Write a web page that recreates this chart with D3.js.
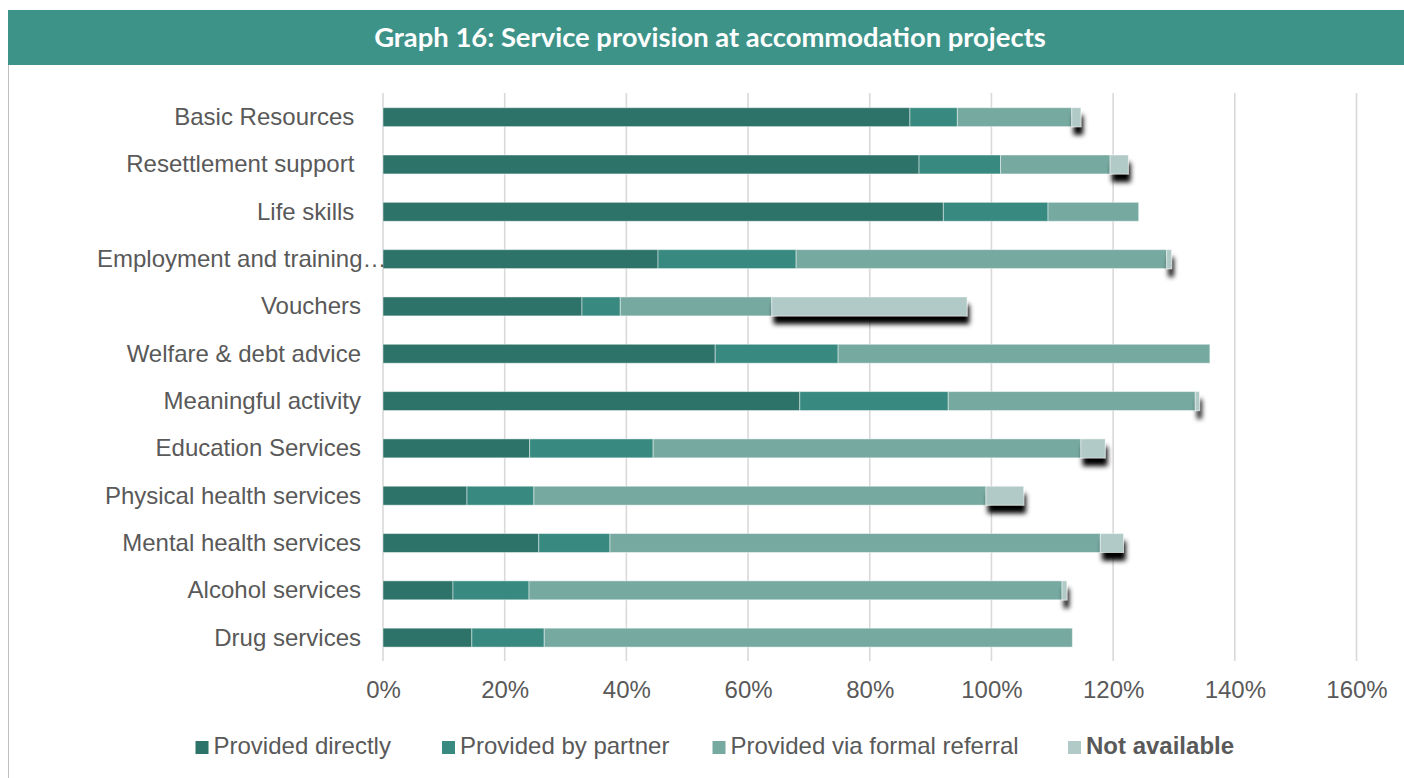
<!DOCTYPE html>
<html>
<head>
<meta charset="utf-8">
<script src="https://cdn.jsdelivr.net/npm/d3@7"></script>
<style>
  html, body { margin: 0; padding: 0; background: #ffffff; overflow: hidden; }
  svg { display: block; }
</style>
</head>
<body>
<svg id="chart" width="1404" height="778"></svg>
<script>
// ---- data (percent of projects) ----
const categories = [
  "Basic Resources ",
  "Resettlement support ",
  "Life skills ",
  "Employment and training…",
  "Vouchers",
  "Welfare & debt advice",
  "Meaningful activity",
  "Education Services",
  "Physical health services",
  "Mental health services",
  "Alcohol services",
  "Drug services"
];
const seriesNames = ["Provided directly", "Provided by partner", "Provided via formal referral", "Not available"];
const providedDirectly  = [86.6, 88.1, 92.1, 45.2, 32.7, 54.6, 68.5, 24.1, 13.8, 25.6, 11.5, 14.6];
const providedByPartner = [ 7.8, 13.4, 17.2, 22.7,  6.3, 20.2, 24.4, 20.3, 11.0, 11.7, 12.5, 11.9];
const formalReferral    = [18.8, 18.0, 14.9, 60.9, 24.9, 61.1, 40.6, 70.3, 74.3, 80.6, 87.6, 86.8];
const notAvailable      = [ 1.5,  3.0,  0.0,  0.8, 32.1,  0.0,  0.7,  4.0,  6.2,  3.8,  0.8,  0.0];
const tickValues = [0, 20, 40, 60, 80, 100, 120, 140, 160];
const title = "Graph 16: Service provision at accommodation projects";

const colors = ["#2e7369", "#388a80", "#76a9a0", "#b1cac7"];

// build table for stack
const table = categories.map((c, i) => ({
  cat: c,
  s0: providedDirectly[i],
  s1: providedByPartner[i],
  s2: formalReferral[i],
  s3: notAvailable[i]
}));
const keys = ["s0", "s1", "s2", "s3"];
const stacked = d3.stack().keys(keys)(table);

const svg = d3.select("#chart");
const textColor = "#595959";
const font = "'Liberation Sans', Arial, sans-serif";

// frame
svg.append("rect")
  .attr("x", 8.5).attr("y", 10.5)
  .attr("width", 1420).attr("height", 800)
  .attr("fill", "#ffffff")
  .attr("stroke", "#bfbfbf").attr("stroke-width", 1);

// header band
svg.append("rect")
  .attr("x", 8).attr("y", 10)
  .attr("width", 1420).attr("height", 55)
  .attr("fill", "#3e9389");

svg.append("text")
  .attr("x", 710).attr("y", 47)
  .attr("text-anchor", "middle")
  .attr("fill", "#ffffff")
  .attr("font-family", "Lato, 'Open Sans', sans-serif")
  .attr("font-weight", "bold")
  .attr("font-size", 27.4)
  .text(title);

// scales
const x = d3.scaleLinear().domain([0, 160]).range([383, 1356.5]);
const y = d3.scaleBand().domain(categories).range([93.5, 661.3]).paddingInner(0.6).paddingOuter(0.3);

// defs: shadow
const defs = svg.append("defs");
const f = defs.append("filter").attr("id", "shadow")
  .attr("x", "-50%").attr("y", "-50%").attr("width", "200%").attr("height", "250%");
f.append("feDropShadow")
  .attr("dx", 2).attr("dy", 8).attr("stdDeviation", 2.4)
  .attr("flood-color", "#000000").attr("flood-opacity", 1);

// gridlines
const grid = svg.append("g").attr("class", "grid");
grid.selectAll("line").data(tickValues).join("line")
  .attr("x1", d => x(d)).attr("x2", d => x(d))
  .attr("y1", 93).attr("y2", 661)
  .attr("stroke", "#d9d9d9").attr("stroke-width", 1.6);

// x axis labels via d3 axis
const xAxis = d3.axisBottom(x).tickValues(tickValues).tickFormat(d => d + "%").tickSize(0).tickPadding(0);
const gx = svg.append("g").attr("transform", "translate(0,680)").call(xAxis);
gx.select(".domain").remove();
gx.selectAll("text")
  .attr("fill", textColor)
  .attr("font-family", font)
  .attr("font-size", 24)
  .attr("dy", "0.75em");

// bars
const layers = svg.append("g").selectAll("g").data(stacked).join("g")
  .attr("fill", (d, i) => colors[i])
  .attr("filter", (d, i) => i === 3 ? "url(#shadow)" : null);
layers.selectAll("rect").data(d => d.filter(s => s[1] - s[0] > 0)).join("rect")
  .attr("x", d => x(d[0]))
  .attr("width", d => x(d[1]) - x(d[0]))
  .attr("y", d => y(d.data.cat))
  .attr("height", y.bandwidth())
  .attr("stroke", "#ffffff").attr("stroke-opacity", 0.45).attr("stroke-width", 1);

// y labels
const labelRight = 361, labelLeft = 97;
const gy = svg.append("g");
gy.selectAll("text").data(categories).join("text")
  .attr("x", labelRight)
  .attr("y", d => y(d) + y.bandwidth() / 2)
  .attr("dy", "0.33em")
  .attr("text-anchor", "end")
  .attr("fill", textColor)
  .attr("font-family", font)
  .attr("font-size", 24)
  .style("white-space", "pre")
  .text(d => d)
  .each(function() {
    const w = this.getComputedTextLength();
    if (w > labelRight - labelLeft) {
      d3.select(this).attr("text-anchor", "start").attr("x", labelLeft);
    }
  });

// legend
const legendX = [195.5, 442, 712.5, 1068];
const lg = svg.append("g");
seriesNames.forEach((name, i) => {
  lg.append("rect")
    .attr("x", legendX[i]).attr("y", 741)
    .attr("width", 13).attr("height", 13)
    .attr("fill", colors[i]);
  lg.append("text")
    .attr("x", legendX[i] + 18).attr("y", 754)
    .attr("fill", textColor)
    .attr("font-family", font)
    .attr("font-size", 24)
    .attr("font-weight", i === 3 ? "bold" : "normal")
    .text(name);
});
</script>
</body>
</html>
